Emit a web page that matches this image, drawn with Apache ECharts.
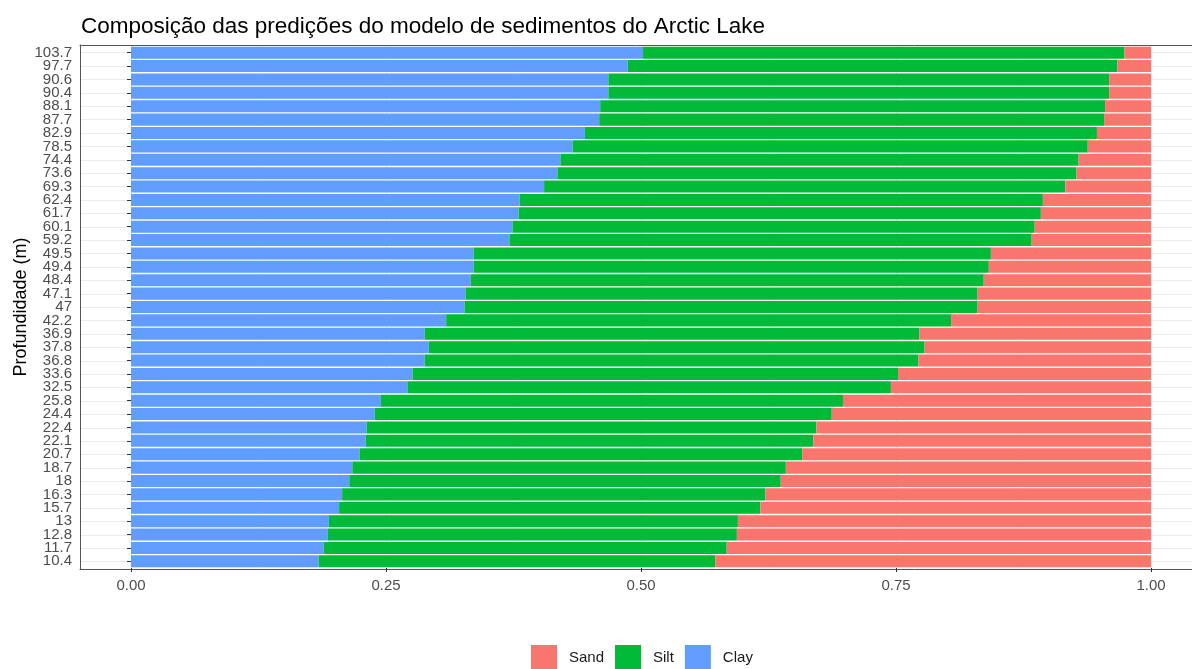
<!DOCTYPE html>
<html>
<head>
<meta charset="utf-8">
<script src="https://cdn.jsdelivr.net/npm/echarts@6/dist/echarts.min.js"></script>
<style>
html,body{margin:0;padding:0;background:#fff;}
#chart{width:1192px;height:669px;}
</style>
</head>
<body>
<div id="chart"></div>
<script>
// Depth categories, bottom to top
var categories = ['10.4','11.7','12.8','13','15.7','16.3','18','18.7','20.7','22.1','22.4','24.4','25.8','32.5','33.6','36.8','37.8','36.9','42.2','47','47.1','48.4','49.4','49.5','59.2','60.1','61.7','62.4','69.3','73.6','74.4','78.5','82.9','87.7','88.1','90.4','90.6','97.7','103.7'];
var clay = [0.184,0.189,0.193,0.194,0.204,0.207,0.214,0.217,0.224,0.230,0.231,0.239,0.245,0.271,0.276,0.288,0.292,0.288,0.309,0.327,0.328,0.333,0.336,0.336,0.371,0.374,0.380,0.381,0.405,0.418,0.421,0.433,0.445,0.459,0.460,0.468,0.468,0.487,0.502];
var silt = [0.389,0.395,0.401,0.401,0.413,0.415,0.423,0.425,0.434,0.439,0.441,0.448,0.453,0.474,0.476,0.484,0.486,0.485,0.495,0.503,0.502,0.503,0.505,0.507,0.512,0.512,0.512,0.513,0.511,0.509,0.508,0.505,0.502,0.495,0.495,0.491,0.491,0.480,0.472];
var sand = [0.427,0.416,0.406,0.405,0.383,0.378,0.363,0.358,0.342,0.331,0.328,0.313,0.302,0.255,0.248,0.228,0.222,0.227,0.196,0.170,0.170,0.164,0.159,0.157,0.117,0.114,0.108,0.106,0.084,0.073,0.071,0.062,0.053,0.046,0.045,0.041,0.041,0.033,0.026];
var xTicks = [0, 0.25, 0.5, 0.75, 1];
var legendOrder = ['Sand','Silt','Clay'];

var FONT = '"Liberation Sans", Arial, sans-serif';
var FRAME = '#555555';
var chart = echarts.init(document.getElementById('chart'), null, {renderer:'canvas'});
var frameLine = {show: true, onZero: false, lineStyle: {color: FRAME, width: 1}};
var option = {
  animation: false,
  backgroundColor: '#ffffff',
  textStyle: {fontFamily: FONT},
  title: {
    text: 'Composição das predições do modelo de sedimentos do Arctic Lake',
    left: 76, top: 10,
    textStyle: {fontFamily: FONT, fontSize: 22.5, fontWeight: 'normal', color: '#000'}
  },
  legend: {
    data: legendOrder,
    left: 526, top: 640,
    icon: 'rect',
    itemWidth: 26, itemHeight: 26, itemGap: 11,
    textStyle: {fontFamily: FONT, fontSize: 15, color: '#1a1a1a', padding: [0,0,0,7]}
  },
  grid: [
    {left: 131, width: 1020, top: 46, height: 522, outerBoundsMode: 'none', containLabel: false},
    {left: 80, width: 1122, top: 45, height: 524, outerBoundsMode: 'none', containLabel: false},
    {left: 80, width: 1122, top: 52.7, height: 509, outerBoundsMode: 'none', containLabel: false}
  ],
  xAxis: [
    {
      gridIndex: 0, type: 'value', min: xTicks[0], max: xTicks[xTicks.length-1], interval: 0.25,
      axisLine: {show: false},
      axisTick: {show: true, length: 4, lineStyle: {color: '#333'}},
      axisLabel: {fontFamily: FONT, fontSize: 15, color: '#4d4d4d', margin: 10,
        formatter: function(v){ return v.toFixed(2); }},
      splitLine: {show: true, lineStyle: {color: '#ebebeb', width: 1}},
      minorTick: {show: false, splitNumber: 2},
      minorSplitLine: {show: true, lineStyle: {color: '#f5f5f5', width: 1}}
    },
    {gridIndex: 1, type: 'value', position: 'bottom', axisLine: frameLine,
      axisTick: {show: false}, axisLabel: {show: false}, splitLine: {show: false}},
    {gridIndex: 2, type: 'value', show: false},
    {gridIndex: 1, type: 'value', position: 'top', axisLine: frameLine,
      axisTick: {show: false}, axisLabel: {show: false}, splitLine: {show: false}}
  ],
  yAxis: [
    {
      gridIndex: 0, type: 'category', data: categories, offset: 51,
      axisLine: {show: false},
      axisTick: {show: true, alignWithLabel: true, length: 4, lineStyle: {color: '#333'}},
      axisLabel: {interval: 0, fontFamily: FONT, fontSize: 15, color: '#4d4d4d', margin: 8},
      splitLine: {show: false},
      name: 'Profundidade (m)', nameLocation: 'middle', nameRotate: 90, nameGap: 50,
      nameMoveOverlap: false,
      nameTextStyle: {fontFamily: FONT, fontSize: 18, color: '#000'}
    },
    {gridIndex: 1, type: 'value', position: 'left', axisLine: frameLine,
      axisTick: {show: false}, axisLabel: {show: false}, splitLine: {show: false}},
    {
      gridIndex: 2, type: 'value', min: 0, max: categories.length - 1, interval: 1,
      axisLine: {show: false}, axisTick: {show: false}, axisLabel: {show: false},
      splitLine: {show: true, lineStyle: {color: '#ebebeb', width: 1}}
    }
  ],
  series: [
    {name: 'Clay', type: 'bar', stack: 'total', xAxisIndex: 0, yAxisIndex: 0, data: clay,
      barWidth: '90%', itemStyle: {color: '#619CFF'}, emphasis: {disabled: true}},
    {name: 'Silt', type: 'bar', stack: 'total', xAxisIndex: 0, yAxisIndex: 0, data: silt,
      barWidth: '90%', itemStyle: {color: '#00BA38'}, emphasis: {disabled: true}},
    {name: 'Sand', type: 'bar', stack: 'total', xAxisIndex: 0, yAxisIndex: 0, data: sand,
      barWidth: '90%', itemStyle: {color: '#F8766D'}, emphasis: {disabled: true}}
  ]
};
chart.setOption(option);
</script>
</body>
</html>
